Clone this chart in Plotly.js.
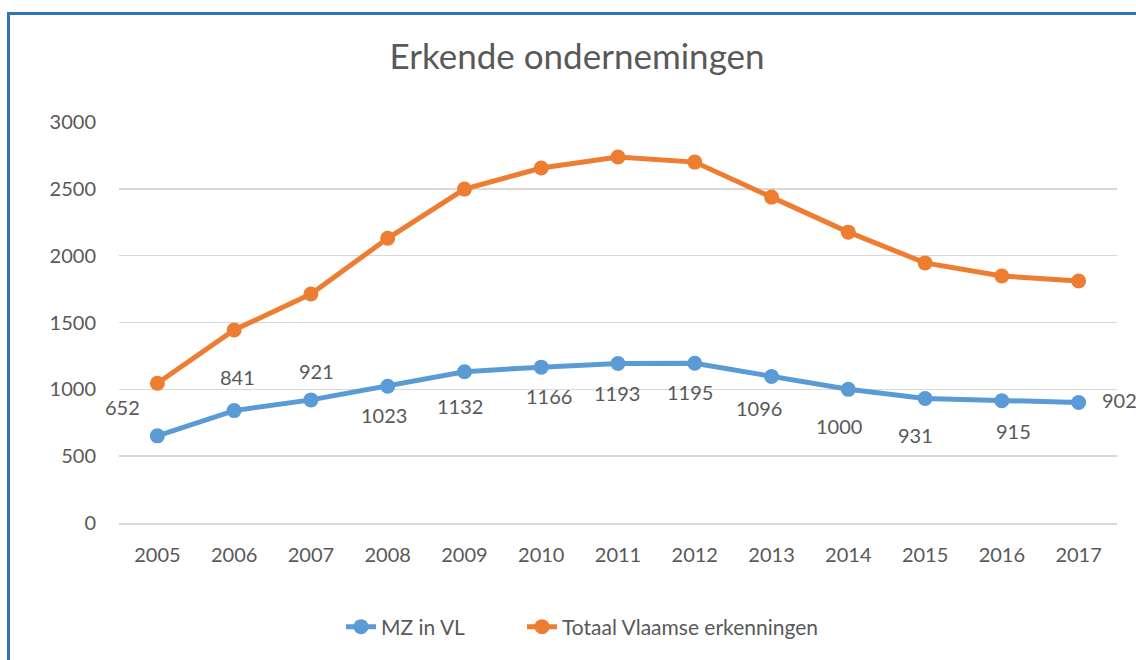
<!DOCTYPE html>
<html>
<head>
<meta charset="utf-8">
<script src="https://cdn.plot.ly/plotly-3.0.1.min.js"></script>
<style>
  html, body { margin: 0; padding: 0; background: #fff; }
  #chart { width: 1136px; height: 660px; position: absolute; left: 0; top: 0; }
  #frame { position: absolute; left: 7px; top: 12px; width: 1200px; height: 700px;
           border-left: 3px solid #2E75B6; border-top: 3px solid #2E75B6; pointer-events: none; }
</style>
</head>
<body>
<div id="chart"></div>
<div id="frame"></div>
<script>
const years = ['2005','2006','2007','2008','2009','2010','2011','2012','2013','2014','2015','2016','2017'];
const mzInVL = [652, 841, 921, 1023, 1132, 1166, 1193, 1195, 1096, 1000, 931, 915, 902];
const totaalVlaams = [1045, 1444, 1713, 2130, 2498, 2656, 2738, 2700, 2438, 2176, 1946, 1848, 1810];
const seriesNames = ['MZ in VL', 'Totaal Vlaamse erkenningen'];

// label offsets (pixels) relative to each point, matching the reference placement
const labelDX = [-35, 3, 6, -4, -4, 8, -1, -5, -13, -9, -10, 12, 21];
const labelDY = [29, 34, 29, -29, -34, -29, -29, -29, -31, -37, -36, -30, 2];

const textColor = '#595959';
const fontFam = 'Lato, sans-serif';

const annotations = mzInVL.map((v, i) => ({
  x: i, y: v, xref: 'x', yref: 'y',
  text: String(v), showarrow: false,
  xanchor: i === years.length - 1 ? 'left' : 'center', yanchor: 'middle',
  xshift: labelDX[i], yshift: labelDY[i],
  font: { family: fontFam, size: 20, color: textColor }
}));

const traces = [
  { x: years, y: mzInVL, name: seriesNames[0], type: 'scatter', mode: 'lines+markers',
    legendwidth: 136,
    line: { color: '#5B9BD5', width: 5 }, marker: { color: '#5B9BD5', size: 15 } },
  { x: years, y: totaalVlaams, name: seriesNames[1], type: 'scatter', mode: 'lines+markers',
    line: { color: '#ED7D31', width: 5 }, marker: { color: '#ED7D31', size: 15 } }
];

const layout = {
  width: 1136, height: 660,
  margin: { l: 119, r: 19, t: 122, b: 137 },
  paper_bgcolor: '#fff', plot_bgcolor: '#fff',
  font: { family: fontFam, size: 20, color: textColor },
  title: { text: 'Erkende ondernemingen', font: { family: fontFam, size: 35, color: textColor },
           x: 577/1136, xanchor: 'center', xref: 'container', y: 1 - 57/660, yanchor: 'middle', yref: 'container' },
  xaxis: { type: 'category', range: [-0.5, 12.5], showgrid: false, zeroline: false,
           showline: true, linecolor: '#D9D9D9', linewidth: 1.5, ticks: '',
           ticklabelstandoff: 13, tickfont: { family: fontFam, size: 20, color: textColor }, fixedrange: true },
  yaxis: { range: [0, 3000], dtick: 500, tick0: 0, showgrid: true, gridcolor: '#D9D9D9', gridwidth: 1.5,
           zeroline: false, showline: false, ticks: '', ticklabelstandoff: 22,
           tickfont: { family: fontFam, size: 20, color: textColor }, fixedrange: true },
  showlegend: true,
  legend: { orientation: 'h', xref: 'container', x: 341/1136, xanchor: 'left', yref: 'container',
            y: 1 - 627/660, yanchor: 'middle', font: { family: fontFam, size: 21, color: textColor },
            itemwidth: 30, tracegroupgap: 0 },
  annotations: annotations
};

Plotly.newPlot('chart', traces, layout, { displayModeBar: false, staticPlot: true });
</script>
</body>
</html>
